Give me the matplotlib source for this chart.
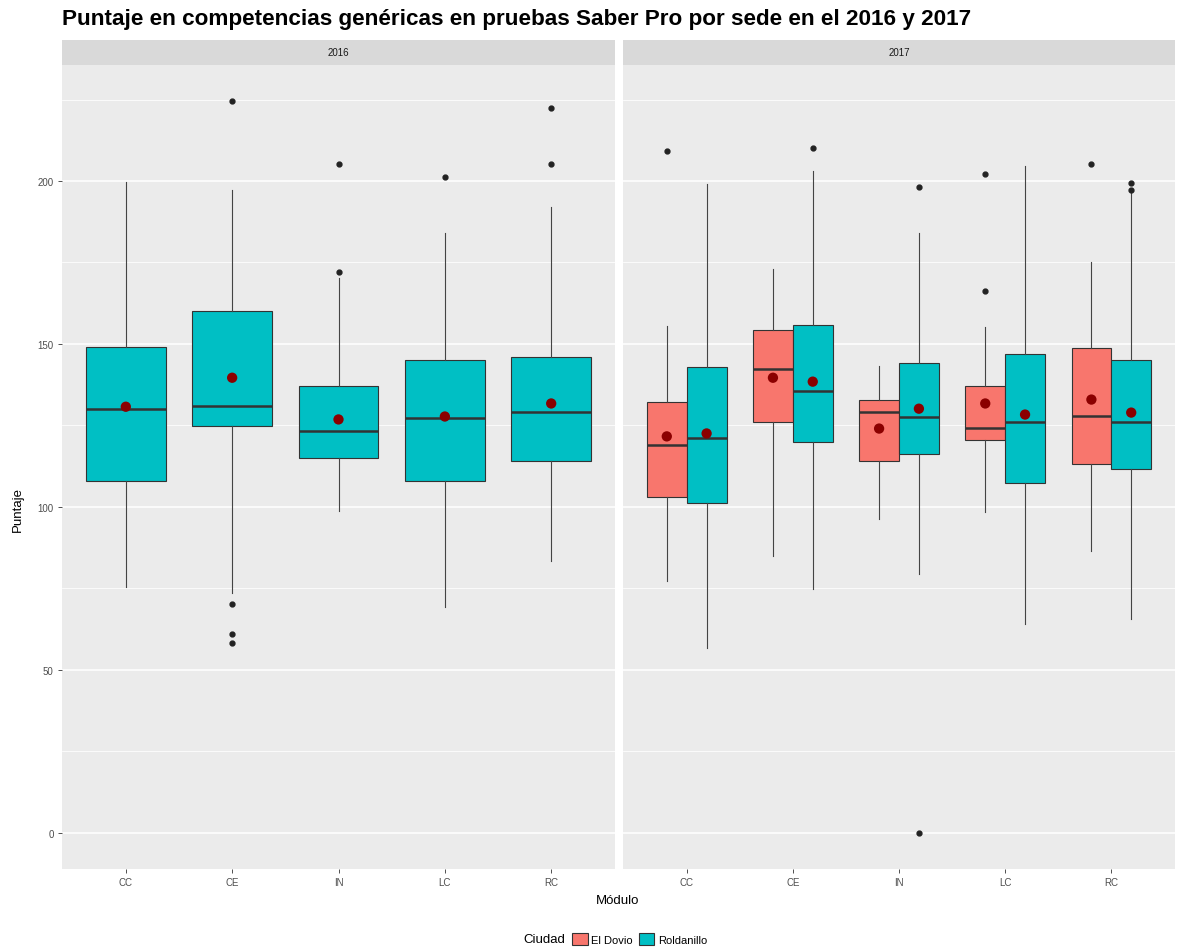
import matplotlib
matplotlib.use("Agg")
import matplotlib.pyplot as plt
from matplotlib.patches import Patch
import numpy as np

plt.rcParams['font.family'] = ['Liberation Sans', 'DejaVu Sans']

modules = ["CC", "CE", "IN", "LC", "RC"]
years = ["2016", "2017"]
cities = ["El Dovio", "Roldanillo"]
city_colors = {"El Dovio": "#F8766D", "Roldanillo": "#00BFC4"}

# 2016 - Roldanillo only
r16_whislo = [75.3, 73.5, 98.6, 69.2, 83.3]
r16_q1 = [107.8, 124.9, 115.1, 107.8, 113.9]
r16_med = [130.1, 131.0, 123.1, 127.1, 129.2]
r16_q3 = [149.1, 160.2, 137.2, 145.1, 146.0]
r16_whishi = [199.7, 197.2, 170.2, 184.0, 192.0]
r16_mean = [130.7, 139.6, 126.8, 127.7, 131.7]
r16_fliers = [[], [224.4, 70.1, 61.0, 58.2], [172.1, 205.1], [201.2], [222.3, 205.1]]

# 2017 - El Dovio
d17_whislo = [77.2, 84.8, 96.1, 98.3, 86.3]
d17_q1 = [102.9, 126.1, 113.9, 120.6, 113.0]
d17_med = [119.1, 142.4, 129.2, 124.3, 128.0]
d17_q3 = [132.3, 154.3, 132.9, 137.2, 148.8]
d17_whishi = [155.5, 173.0, 143.3, 155.2, 175.1]
d17_mean = [121.6, 139.6, 124.0, 131.7, 132.9]
d17_fliers = [[209.1], [], [], [166.3, 202.1], [205.1]]

# 2017 - Roldanillo
r17_whislo = [56.6, 74.7, 79.3, 64.0, 65.5]
r17_q1 = [101.0, 120.0, 116.3, 107.2, 111.5]
r17_med = [121.2, 135.6, 127.7, 126.1, 126.1]
r17_q3 = [143.0, 155.8, 144.2, 147.0, 145.1]
r17_whishi = [199.0, 203.0, 184.0, 204.5, 196.3]
r17_mean = [122.5, 138.4, 130.1, 128.3, 128.9]
r17_fliers = [[], [210.0], [198.1, 0.0], [], [199.3, 197.2]]

yticks = [0, 50, 100, 150, 200]

panels = {
    "2016": [("Roldanillo", r16_whislo, r16_q1, r16_med, r16_q3, r16_whishi, r16_mean, r16_fliers)],
    "2017": [("El Dovio", d17_whislo, d17_q1, d17_med, d17_q3, d17_whishi, d17_mean, d17_fliers),
             ("Roldanillo", r17_whislo, r17_q1, r17_med, r17_q3, r17_whishi, r17_mean, r17_fliers)],
}

W, H = 1181, 953
fig = plt.figure(figsize=(W / 100, H / 100), dpi=100)
fig.patch.set_facecolor("white")

panel_px = {"2016": (62, 615), "2017": (623, 1175)}
top_px, bot_px = 66, 870
strip_top = 41

edge = "#333333"
for yr in years:
    x0, x1 = panel_px[yr]
    ax = fig.add_axes([x0 / W, (H - bot_px) / H, (x1 - x0) / W, (bot_px - top_px) / H])
    ax.set_facecolor("#EBEBEB")
    for s in ax.spines.values():
        s.set_visible(False)
    ax.set_xlim(0.4, 5.6)
    ax.set_ylim(-11.2, 235.6)
    ax.set_yticks(yticks)
    ax.set_yticks([25, 75, 125, 175, 225], minor=True)
    ax.grid(True, which="major", axis="y", color="white", lw=1.1)
    ax.grid(True, which="minor", axis="y", color="white", lw=0.55)
    ax.set_axisbelow(True)
    ax.set_xticks(np.arange(1, 6))
    ax.set_xticklabels(modules)
    ax.tick_params(axis="both", which="major", length=3, width=0.6, color="#333333",
                   labelsize=7, labelcolor="#4D4D4D", pad=3)
    ax.tick_params(axis="both", which="minor", length=0)
    if yr == "2016":
        ax.set_yticklabels([str(t) for t in yticks])
    else:
        ax.tick_params(axis="y", which="both", left=False, labelleft=False)

    groups = panels[yr]
    n = len(groups)
    total_w = 0.75
    bw = total_w / n
    for gi, (city, wlo, q1, med, q3, whi, mean, fl) in enumerate(groups):
        offset = -total_w / 2 + bw * (gi + 0.5)
        pos = np.arange(1, 6) + offset
        stats = []
        for i in range(5):
            stats.append(dict(whislo=wlo[i], q1=q1[i], med=med[i], q3=q3[i],
                              whishi=whi[i], fliers=fl[i], mean=mean[i]))
        ax.bxp(stats, positions=pos, widths=bw, patch_artist=True, showcaps=False,
               showmeans=False, manage_ticks=False,
               boxprops=dict(facecolor=city_colors[city], edgecolor=edge, linewidth=0.8),
               medianprops=dict(color=edge, linewidth=1.8),
               whiskerprops=dict(color="#444444", linewidth=0.8),
               flierprops=dict(marker="o", markersize=3.5, markerfacecolor="#222222",
                               markeredgecolor="#222222"))
        ax.scatter(pos, mean, s=55, color="#8B0000", zorder=5, edgecolor="none")

    # strip
    sax = fig.add_axes([x0 / W, (H - top_px) / H, (x1 - x0) / W, (top_px - strip_top) / H])
    sax.set_facecolor("#D9D9D9")
    sax.set_xticks([])
    sax.set_yticks([])
    for s in sax.spines.values():
        s.set_visible(False)
    sax.text(0.5, 0.5, yr, ha="center", va="center", fontsize=7, color="#1A1A1A",
             transform=sax.transAxes)

fig.text(62 / W, 1 - 20 / H,
         "Puntaje en competencias genéricas en pruebas Saber Pro por sede en el 2016 y 2017",
         fontsize=16.2, fontweight="bold", ha="left", va="center", color="black")
fig.text(18 / W, 1 - 510 / H, "Puntaje", rotation=90, ha="center", va="center", fontsize=9.5)
fig.text(618 / W, 1 - 901 / H, "Módulo", ha="center", va="center", fontsize=9.5)

fig.text(565 / W, 1 - 940 / H, "Ciudad", ha="right", va="center", fontsize=9.5)
handles = [Patch(facecolor=city_colors[c], edgecolor=edge, linewidth=0.8) for c in cities]
fig.legend(handles, cities, loc="center left", bbox_to_anchor=(572 / W, 1 - 940 / H),
           ncol=2, frameon=False, fontsize=8, handlelength=1.4, handleheight=1.3,
           handletextpad=0.35, columnspacing=0.5, borderaxespad=0, borderpad=0)

fig.savefig("out.png", dpi=100, facecolor="white")
